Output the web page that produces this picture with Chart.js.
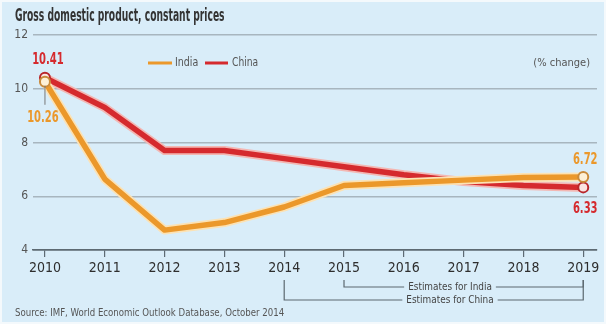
<!DOCTYPE html>
<html>
<head>
<meta charset="utf-8">
<script src="https://cdn.jsdelivr.net/npm/chart.js@4.4.1/dist/chart.umd.min.js"></script>
<style>
  html, body { margin: 0; padding: 0; background: #f4f9fc; }
  #wrap { position: absolute; left: 2px; top: 2px; width: 602px; height: 320px; background: #d9edf9; }
  canvas { display: block; }
</style>
</head>
<body>
<div id="wrap"><canvas id="chart" width="602" height="320"></canvas></div>
<script>
// data
const years = [2010, 2011, 2012, 2013, 2014, 2015, 2016, 2017, 2018, 2019];
const india = [10.26, 6.64, 4.74, 5.02, 5.6, 6.4, 6.5, 6.6, 6.7, 6.72];
const china = [10.41, 9.3, 7.7, 7.7, 7.4, 7.1, 6.8, 6.55, 6.4, 6.33];
const yTicks = [4, 6, 8, 10, 12];

const indiaColor = '#eb982b';
const chinaColor = '#d52a2e';
const fontStack = "'Liberation Sans Narrow', 'DejaVu Sans Condensed', 'Roboto', sans-serif";

function pts(vals) {
    return years.map((y, i) => ({ x: y, y: vals[i] }));
}

function endRadius(ctx) {
    return (ctx.dataIndex === 0 || ctx.dataIndex === years.length - 1) ? 5 : 0;
}

// draw text squeezed horizontally (the original uses a very narrow face)
function narrowText(c, text, x, y, sx) {
    c.save();
    c.translate(x, y);
    c.scale(sx, 1);
    c.fillText(text, 0, 0);
    c.restore();
}

// labels, legend, brackets etc
const extras = {
    id: 'extras',
    afterDatasetsDraw(chart) {
        const c = chart.ctx;
        const xs = chart.scales.x, ys = chart.scales.y;
        const X = v => xs.getPixelForValue(v);
        const Y = v => ys.getPixelForValue(v);
        c.save();

        // title
        c.fillStyle = '#333';
        c.font = "bold 17px " + fontStack;
        c.textAlign = 'left';
        c.textBaseline = 'middle';
        narrowText(c, 'Gross domestic product, constant prices', 13, 15, 0.6);

        // legend
        c.lineWidth = 3;
        c.strokeStyle = indiaColor;
        c.beginPath(); c.moveTo(146, 61); c.lineTo(170, 61); c.stroke();
        c.strokeStyle = chinaColor;
        c.beginPath(); c.moveTo(203, 61); c.lineTo(226, 61); c.stroke();
        c.fillStyle = '#555';
        c.font = "12px " + fontStack;
        narrowText(c, 'India', 173, 61, 0.88);
        narrowText(c, 'China', 230, 61, 0.85);

        c.textAlign = 'right';
        c.font = "11px " + fontStack;
        c.fillText('(% change)', 588, 61);

        // value labels
        const first = years[0], last = years[years.length - 1];
        c.strokeStyle = '#777';
        c.lineWidth = 1;
        c.beginPath(); c.moveTo(X(first), Y(india[0]) + 4); c.lineTo(X(first), Y(india[0]) + 23); c.stroke();

        c.textAlign = 'center';
        c.font = "bold 15px " + fontStack;
        c.fillStyle = chinaColor;
        narrowText(c, china[0].toFixed(2), X(first) + 3, Y(china[0]) - 18, 0.74);
        narrowText(c, china[china.length - 1].toFixed(2), X(last) + 2, Y(china[china.length - 1]) + 22, 0.74);
        c.fillStyle = indiaColor;
        narrowText(c, india[0].toFixed(2), X(first) - 2, Y(india[0]) + 36, 0.74);
        narrowText(c, india[india.length - 1].toFixed(2), X(last) + 2, Y(india[india.length - 1]) - 17, 0.74);

        // estimate brackets
        c.strokeStyle = '#5c6870';
        c.lineWidth = 1.2;
        c.fillStyle = '#444';
        c.font = "11px " + fontStack;
        const bracket = (from, yLine, label) => {
            const x0 = X(from), x1 = X(last), top = 278;
            const mid = 448;
            const tw = c.measureText(label).width * 0.9 / 2 + 4;
            c.beginPath();
            c.moveTo(x0, top); c.lineTo(x0, yLine); c.lineTo(mid - tw, yLine);
            c.moveTo(mid + tw, yLine); c.lineTo(x1, yLine); c.lineTo(x1, top);
            c.stroke();
            narrowText(c, label, mid, yLine, 0.9);
        };
        bracket(2015, 285, 'Estimates for India');
        bracket(2014, 298, 'Estimates for China');

        // source
        c.textAlign = 'left';
        c.fillStyle = '#555';
        c.font = "11px " + fontStack;
        narrowText(c, 'Source: IMF, World Economic Outlook Database, October 2014', 13, 311, 0.87);

        c.restore();
    }
};

new Chart(document.getElementById('chart'), {
    type: 'line',
    data: {
        datasets: [
            { label: 'China halo', data: pts(china), borderColor: '#f3b7b3', borderWidth: 9, pointRadius: 0, order: 4 },
            { label: 'China', data: pts(china), borderColor: chinaColor, borderWidth: 5.5,
              pointRadius: endRadius, pointBackgroundColor: '#fbe4e2', pointBorderColor: '#b8262b', pointBorderWidth: 2, order: 3 },
            { label: 'India halo', data: pts(india), borderColor: '#fce2b4', borderWidth: 9, pointRadius: 0, order: 2 },
            { label: 'India', data: pts(india), borderColor: indiaColor, borderWidth: 5.5,
              pointRadius: endRadius, pointBackgroundColor: '#fdf0d6', pointBorderColor: '#c98a3a', pointBorderWidth: 2, order: 1 }
        ]
    },
    options: {
        responsive: false,
        animation: false,
        layout: { padding: { top: 33, right: 6, left: 0, bottom: 0 } },
        elements: { line: { tension: 0, borderJoinStyle: 'round', borderCapStyle: 'round' } },
        plugins: { legend: { display: false }, tooltip: { enabled: false } },
        scales: {
            x: {
                type: 'linear',
                min: 2009.8,
                max: 2019.23,
                afterBuildTicks: s => { s.ticks = years.map(v => ({ value: v })); },
                afterFit: s => { s.height = 72; },
                grid: { drawOnChartArea: false, drawTicks: true, tickLength: 7, color: '#5d6a73', lineWidth: 1.2 },
                border: { display: true, color: '#5d6a73', width: 1.5 },
                ticks: { color: '#2e2e2e', padding: 3, font: { family: fontStack, size: 14 }, callback: v => String(v), autoSkip: false, maxRotation: 0 }
            },
            y: {
                min: 4,
                max: 12,
                afterBuildTicks: s => { s.ticks = yTicks.map(v => ({ value: v })); },
                afterFit: s => { s.width = 31; },
                grid: { drawTicks: false, color: ctx => ctx.tick && ctx.tick.value === 4 ? '#5d6a73' : '#a8b6bf', lineWidth: 1.5 },
                border: { display: false },
                ticks: { color: '#555', padding: 5, font: { family: fontStack, size: 12 } }
            }
        }
    },
    plugins: [extras]
});
</script>
</body>
</html>
